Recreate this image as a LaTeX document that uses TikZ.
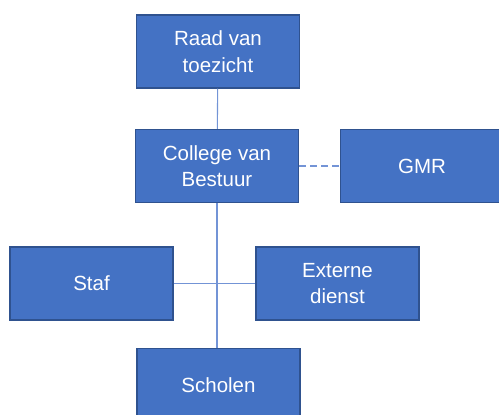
\documentclass[tikz,border=0pt]{standalone}
\usepackage{fontspec}
\setmainfont{Liberation Sans}
\definecolor{orgfill}{HTML}{4472C4}
\definecolor{orgedge}{HTML}{2F528F}
\definecolor{orgline}{HTML}{7394D6}
\begin{document}
\begin{tikzpicture}[x=1pt,y=-1pt, every node/.style={draw=orgedge,line width=1.4pt,fill=orgfill,text=white,minimum width=163pt,minimum height=73pt,align=center,inner sep=0pt,font=\fontsize{20.5}{26.5}\selectfont}]
          \useasboundingbox (0,0) rectangle (499,415);
          \clip (0,0) rectangle (499,415);
          \node (raad) at (218,51.5) {Raad van\\toezicht};
          \node (cvb) at (217,166) {College van\\Bestuur};
          \node (gmr) at (422,166) {GMR};
          \node (staf) at (91.5,283.5) {Staf};
          \node (extern) at (337.5,283.5) {Externe\\dienst};
          \node (scholen) at (218.5,385) {Scholen};
          \draw [orgline,line width=1.1pt] (raad) -- (cvb);
          \draw [orgline,line width=1.1pt,dash pattern=on 7pt off 4pt] (cvb) -- (gmr);
          \draw [orgline,line width=1.1pt] (cvb.south) -- (cvb.south |- scholen.north);
          \draw [orgline,line width=1.1pt] (staf) -- (extern);
        \end{tikzpicture}
\end{document}
